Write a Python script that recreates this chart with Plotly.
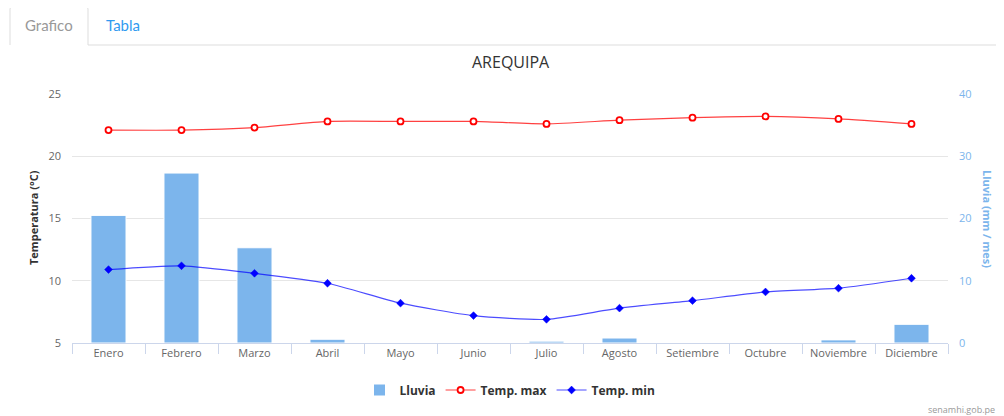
import plotly.graph_objects as go

meses = ["Enero", "Febrero", "Marzo", "Abril", "Mayo", "Junio", "Julio",
         "Agosto", "Setiembre", "Octubre", "Noviembre", "Diciembre"]
lluvia = [20.5, 27.3, 15.3, 0.6, 0.0, 0.0, 0.3, 0.8, 0.0, 0.0, 0.5, 3.0]
temp_max = [22.1, 22.1, 22.3, 22.8, 22.8, 22.8, 22.6, 22.9, 23.1, 23.2, 23.0, 22.6]
temp_min = [10.9, 11.2, 10.6, 9.8, 8.2, 7.2, 6.9, 7.8, 8.4, 9.1, 9.4, 10.2]

W, H = 1004, 416
OFF = 8  # page body margin of the html file
# plot area as it should appear on screen
L, R, T, B = 72, 948, 94, 343


def px(x):
    return (x - L) / (R - L)


def py(y):
    return (B - y) / (B - T)


FONT = "Open Sans"

fig = go.Figure()

# bars on the base axis (right side) so that the temperature lines sit above them
fig.add_trace(go.Bar(
    x=meses, y=lluvia, name="Lluvia", yaxis="y",
    marker=dict(color="#7cb5ec", line=dict(color="#ffffff", width=1)),
))
fig.add_trace(go.Scatter(
    x=meses, y=temp_max, name="Temp. max", mode="lines+markers", yaxis="y2",
    line=dict(color="rgba(255,0,0,0.75)", width=1.2, shape="spline", smoothing=0.6),
    marker=dict(symbol="circle", size=6, color="#ffffff",
                line=dict(color="#ff0000", width=1.8)),
))
fig.add_trace(go.Scatter(
    x=meses, y=temp_min, name="Temp. min", mode="lines+markers", yaxis="y2",
    line=dict(color="rgba(0,0,255,0.7)", width=1.2, shape="spline", smoothing=0.6),
    marker=dict(symbol="diamond", size=6, color="#0000ff",
                line=dict(color="#0000ff", width=0.5)),
))

shapes = [
    # tab box
    dict(type="path", xref="paper", yref="paper",
         path=f"M {px(10)} {py(45)} L {px(10)} {py(9)} Q {px(10)} {py(6)} {px(13)} {py(6)} "
              f"L {px(85)} {py(6)} Q {px(88)} {py(6)} {px(88)} {py(9)} L {px(88)} {py(45)}",
         line=dict(color="#dddddd", width=1)),
    dict(type="line", xref="paper", yref="paper",
         x0=px(88), x1=px(1004), y0=py(45), y1=py(45),
         line=dict(color="#dddddd", width=1)),
]


def label(text, x, y, size, color, family=FONT, angle=0, xanchor="center"):
    return dict(text=text, x=px(x), y=py(y), xref="paper", yref="paper",
                xanchor=xanchor, yanchor="middle", showarrow=False, textangle=angle,
                font=dict(family=family, size=size, color=color))


annotations = [
    label("Grafico", 49, 25, 15, "#999999", family="Lato"),
    label("Tabla", 123, 25, 15, "#2f9af0", family="Lato"),
    label("AREQUIPA", 511, 62, 16, "#333333"),
    label("<b>Temperatura (°C)</b>", 33, 218, 11, "#333333", angle=-90),
    label("<b>Lluvia (mm / mes)</b>", 988, 219, 11, "#7cb5ec", angle=90),
    label("senamhi.gob.pe", 997, 409, 9, "#999999", xanchor="right"),
]

fig.update_layout(
    width=W, height=H,
    margin=dict(l=L - OFF, r=W - (R - OFF), t=T - OFF, b=H - (B - OFF), pad=0),
    paper_bgcolor="white", plot_bgcolor="white",
    font=dict(family=FONT, size=11, color="#666666"),
    bargap=0.52,
    showlegend=True,
    legend=dict(orientation="h", x=0.5, xanchor="center", y=py(390), yanchor="middle",
                font=dict(family=FONT, size=12, color="#333333", weight="bold"),
                itemwidth=30),
    xaxis=dict(type="category", range=[-0.5, 11.5], showgrid=False, showline=True,
               linecolor="#ccd6eb", ticks="outside", tickson="boundaries", ticklen=10,
               tickcolor="#ccd6eb", tickfont=dict(size=11, color="#666666"),
               fixedrange=True, automargin=False),
    # lluvia, right side, its grid lines coincide with the temperature ticks
    yaxis=dict(range=[0, 40], dtick=10, side="right", showgrid=True, gridcolor="#e6e6e6",
               zeroline=False, tickfont=dict(size=11, color="#7cb5ec"),
               ticklabelstandoff=10, automargin=False),
    # temperatura, left side
    yaxis2=dict(range=[5, 25], dtick=5, overlaying="y", side="left", showgrid=False,
                zeroline=False, tickfont=dict(size=11, color="#666666"),
                ticklabelstandoff=10, automargin=False),
    shapes=shapes,
    annotations=annotations,
)

fig.write_html("out.html")
